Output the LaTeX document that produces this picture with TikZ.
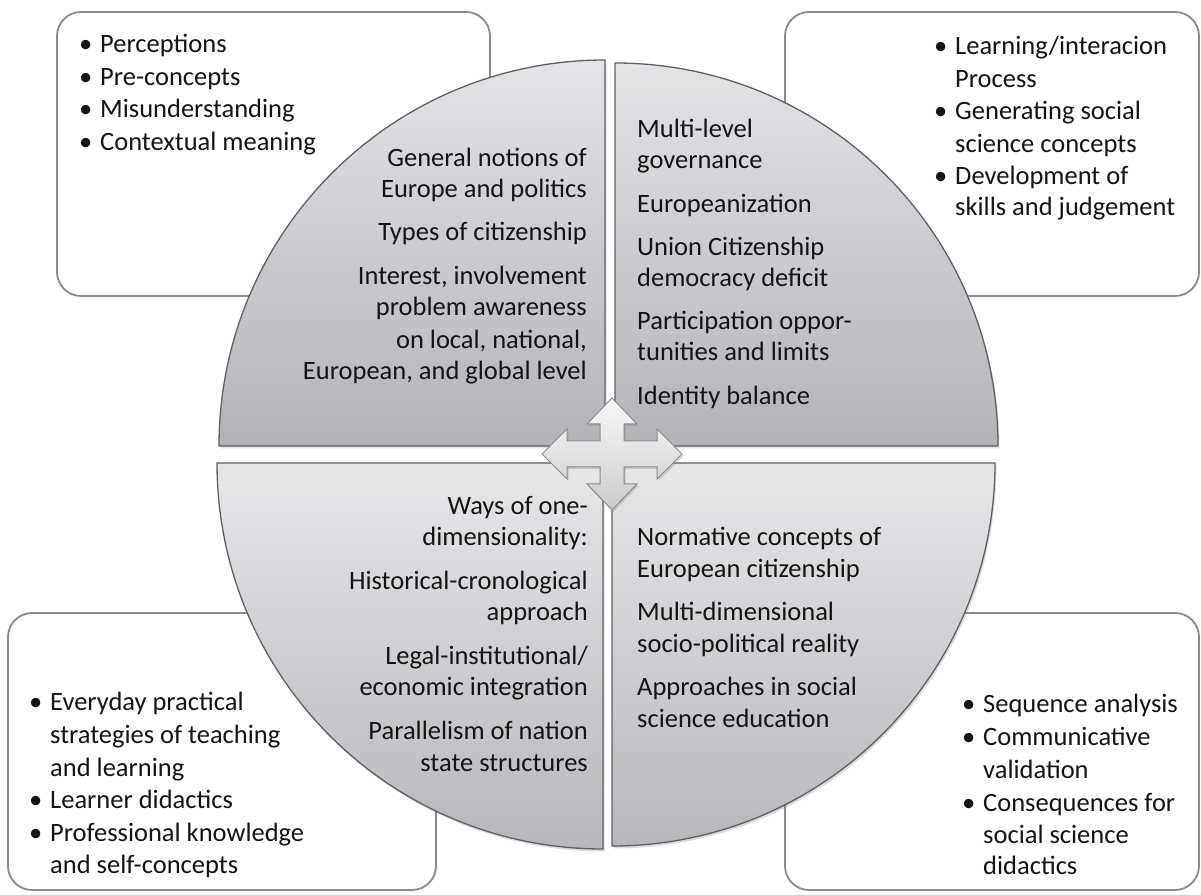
\documentclass[tikz,border=0pt]{standalone}
\usepackage{fontspec}
\setmainfont{Carlito}
\usetikzlibrary{shadows}
\definecolor{qtop}{HTML}{E3E4E6}
\definecolor{qbot}{HTML}{B1B3B7}
\definecolor{ltop}{HTML}{E6E7E9}
\definecolor{lbot}{HTML}{B5B7BA}
\definecolor{boxline}{HTML}{8A8A8A}
\definecolor{quadline}{HTML}{5E6063}
\newcommand\bl{\makebox[21pt][l]{•}}
\newcommand\ind{\hspace*{21pt}}
\begin{document}
\begin{tikzpicture}[x=1pt,y=1pt,
  box/.style={draw=boxline, line width=1.8pt, rounded corners=24pt, fill=white},
  quad/.style={draw=quadline, line width=1.3pt,
    drop shadow={opacity=0.28, shadow xshift=1.5pt, shadow yshift=-2.5pt}},
  upper/.style={quad, top color=qtop, bottom color=qbot},
  lower/.style={quad, top color=ltop, bottom color=lbot},
  txt/.style={inner sep=0pt, text=black!92, font=\fontsize{26.5}{32}\selectfont},
  hubarrow/.style={draw=black!45, line width=1pt, top color=black!3, bottom color=black!20,
    drop shadow={opacity=0.3, shadow xshift=1.5pt, shadow yshift=-2pt}}
]
\useasboundingbox (0,0) rectangle (1201,894);

% corner boxes
\draw[box] (57,598) rectangle (490,882);
\draw[box] (785,598) rectangle (1199,882);
\draw[box] (8,4) rectangle (436,281);
\draw[box] (785,4) rectangle (1199,281);

% four quarter discs
\draw[upper] (605,448) -- (219,448) arc[start angle=180, end angle=90, radius=386] -- cycle;
\draw[upper] (615,448) -- (615,831) arc[start angle=90, end angle=0, radius=383] -- cycle;
\draw[lower] (603,431) -- (217,431) arc[start angle=180, end angle=270, radius=386] -- cycle;
\draw[lower] (612,431) -- (995,431) arc[start angle=0, end angle=-90, radius=383] -- cycle;

% four-way arrow in the middle
\coordinate (hub) at (612,440);
\draw[hubarrow, shift={(hub)}]
  (12,13) -- (45,13) -- (45,25) -- (70,0) -- (45,-25) -- (45,-13) -- (12,-13)
  -- (12,-30) -- (25,-30) -- (0,-56) -- (-25,-30) -- (-12,-30) -- (-12,-13)
  -- (-45,-13) -- (-45,-25) -- (-70,0) -- (-45,25) -- (-45,13) -- (-12,13)
  -- (-12,30) -- (-25,30) -- (0,56) -- (25,30) -- (12,30) -- cycle;

% top-left box
\foreach \n/\y/\t in {1/45/\bl Perceptions, 2/78/\bl Pre-concepts,
    3/110/\bl Misunderstanding, 4/143/\bl Contextual meaning}
  \node[txt, anchor=base west] (tlb\n) at (79, 886-\y) {\t};

% top-right box
\foreach \n/\y/\t in {1/47/{\bl Learning/interacion}, 2/80/\ind Process,
    3/112/\bl Generating social, 4/145/\ind science concepts,
    5/177/\bl Development of, 6/208/\ind skills and judgement}
  \node[txt, anchor=base west] (trb\n) at (934, 886-\y) {\t};

% bottom-left box
\foreach \n/\y/\t in {1/703/\bl Everyday practical, 2/736/\ind strategies of teaching,
    3/768/\ind and learning, 4/800/\bl Learner didactics,
    5/833/\bl Professional knowledge, 6/865/\ind and self-concepts}
  \node[txt, anchor=base west] (blb\n) at (29, 886-\y) {\t};

% bottom-right box
\foreach \n/\y/\t in {1/705/\bl Sequence analysis, 2/738/\bl Communicative,
    3/770/\ind validation, 4/803/\bl Consequences for,
    5/835/\ind social science, 6/866/\ind didactics}
  \node[txt, anchor=base west] (brb\n) at (962, 886-\y) {\t};

% upper-left quarter
\foreach \n/\y/\t in {1/159/General notions of, 2/190/Europe and politics,
    3/233/Types of citizenship, 4/277/{Interest, involvement},
    5/308/problem awareness, 6/341/{on local, national,},
    7/372/{European, and global level}}
  \node[txt, anchor=base east] (tlq\n) at (587, 886-\y) {\t};

% upper-right quarter
\foreach \n/\y/\t in {1/130/Multi-level, 2/161/governance, 3/205/Europeanization,
    4/248/Union Citizenship, 5/279/democracy deficit,
    6/322/Participation oppor-, 7/353/tunities and limits, 8/397/Identity balance}
  \node[txt, anchor=base west] (trq\n) at (637, 886-\y) {\t};

% lower-left quarter
\foreach \n/\y/\t in {1/507/Ways of one-, 2/538/dimensionality:,
    3/582/Historical-cronological, 4/613/approach,
    5/657/{Legal-institutional/}, 6/688/economic integration,
    7/732/Parallelism of nation, 8/763/state structures}
  \node[txt, anchor=base east] (blq\n) at (588, 886-\y) {\t};

% lower-right quarter
\foreach \n/\y/\t in {1/538/Normative concepts of, 2/570/European citizenship,
    3/613/Multi-dimensional, 4/645/socio-political reality,
    5/688/Approaches in social, 6/720/science education}
  \node[txt, anchor=base west] (brq\n) at (637, 886-\y) {\t};
\end{tikzpicture}
\end{document}
